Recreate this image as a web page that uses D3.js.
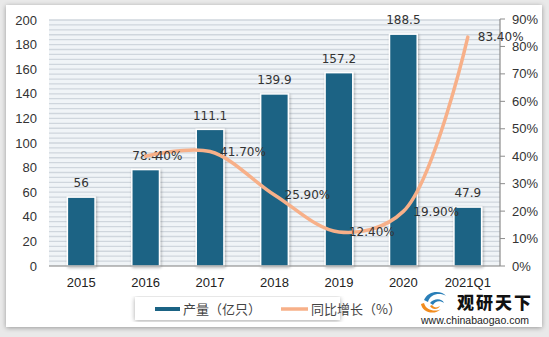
<!DOCTYPE html>
<html><head><meta charset="utf-8">
<script src="https://cdn.jsdelivr.net/npm/d3@7"></script>
<style>
html,body{margin:0;padding:0;background:#e9e9e9;}
svg{display:block;}
</style></head>
<body>
<svg id="c" width="549" height="337"></svg>
<script>
const categories = ["2015","2016","2017","2018","2019","2020","2021Q1"];
const output = [56, 78.4, 111.1, 139.9, 157.2, 188.5, 47.9];
const growth = [null, 40, 41.7, 25.9, 12.4, 19.9, 83.4];
const growthLabels = [null, "40%", "41.70%", "25.90%", "12.40%", "19.90%", "83.40%"];
const leftTicks = [0,20,40,60,80,100,120,140,160,180,200];
const rightTicks = [0,10,20,30,40,50,60,70,80,90];
const legendNames = ["产量（亿只）", "同比增长（%）"];

(function(){
const svg = d3.select("#c");
const defs = svg.append("defs");
const f = defs.append("filter").attr("id","frameShadow").attr("x","-5%").attr("y","-5%").attr("width","110%").attr("height","110%");
f.append("feGaussianBlur").attr("in","SourceAlpha").attr("stdDeviation",2.5);
f.append("feOffset").attr("dx",0).attr("dy",1);
f.append("feComponentTransfer").append("feFuncA").attr("type","linear").attr("slope",0.35);
const fm = f.append("feMerge"); fm.append("feMergeNode"); fm.append("feMergeNode").attr("in","SourceGraphic");
const bs = defs.append("filter").attr("id","barShadow").attr("x","-30%").attr("y","-10%").attr("width","160%").attr("height","120%");
bs.append("feGaussianBlur").attr("in","SourceAlpha").attr("stdDeviation",1.5);
bs.append("feOffset").attr("dx",1).attr("dy",1);
bs.append("feComponentTransfer").append("feFuncA").attr("type","linear").attr("slope",0.3);
const bm = bs.append("feMerge"); bm.append("feMergeNode"); bm.append("feMergeNode").attr("in","SourceGraphic");

svg.append("rect").attr("x",6).attr("y",5).attr("width",536).attr("height",322).attr("fill","#fff").attr("filter","url(#frameShadow)");

const pL = 49, pR = 500, pT = 20, pB = 266;
const x = d3.scaleBand().domain(categories).range([pL,pR]).paddingInner(0.57).paddingOuter(0.285);
const y = d3.scaleLinear().domain([0,200]).range([pB,pT]);
const y2 = d3.scaleLinear().domain([0,90]).range([pB,19]);

svg.append("rect").attr("x",pL).attr("y",pT).attr("width",pR-pL).attr("height",pB-pT).attr("fill","#f0f4f7");
svg.append("g").selectAll("line").data(d3.range(4,201,4)).join("line")
  .attr("x1",pL).attr("x2",pR).attr("y1",d=>y(d)).attr("y2",d=>y(d))
  .attr("stroke","#cfd6dd").attr("stroke-width",1.3);

const fontNum = "'Liberation Sans', Arial, sans-serif";
svg.append("g").selectAll("text").data(leftTicks).join("text")
  .attr("x",37).attr("y",d=>y(d)).attr("dy","0.35em").attr("text-anchor","end")
  .attr("font-family",fontNum).attr("font-size",13).attr("fill","#333").text(d=>d);

svg.append("g").selectAll("rect").data(output).join("rect")
  .attr("x",(d,i)=>x(categories[i])).attr("width",x.bandwidth())
  .attr("y",d=>y(d)).attr("height",d=>pB-y(d))
  .attr("fill","#1b6384").attr("stroke","#ffffff").attr("stroke-width",1.5)
  .attr("filter","url(#barShadow)");

svg.append("line").attr("x1",pL).attr("x2",pR).attr("y1",pB).attr("y2",pB).attr("stroke","#7f7f7f").attr("stroke-width",1.2);
svg.append("line").attr("x1",pR).attr("x2",pR).attr("y1",19).attr("y2",pB).attr("stroke","#8c8c8c").attr("stroke-width",1.2);
const rg = svg.append("g");
rg.selectAll("line").data(rightTicks).join("line")
  .attr("x1",pR).attr("x2",pR+5).attr("y1",d=>y2(d)).attr("y2",d=>y2(d)).attr("stroke","#8c8c8c");
rg.selectAll("text").data(rightTicks).join("text")
  .attr("x",512).attr("y",d=>y2(d)).attr("dy","0.35em")
  .attr("font-family",fontNum).attr("font-size",13).attr("fill","#333").text(d=>d+"%");

svg.append("g").selectAll("text").data(categories).join("text")
  .attr("x",d=>x(d)+x.bandwidth()/2).attr("y",287).attr("text-anchor","middle")
  .attr("font-family",fontNum).attr("font-size",13).attr("fill","#222").text(d=>d);

svg.append("g").selectAll("text").data(output).join("text")
  .attr("x",(d,i)=>x(categories[i])+x.bandwidth()/2).attr("y",d=>y(d)-14).attr("dy","0.35em")
  .attr("text-anchor","middle").attr("font-family","'DejaVu Sans', sans-serif").attr("font-size",12).attr("fill","#333")
  .text(d=>d);

const pts = growth.map((g,i)=>({g,c:categories[i],l:growthLabels[i]})).filter(d=>d.g!==null);
const cx = d=>x(d.c)+x.bandwidth()/2;
const line = d3.line().x(cx).y(d=>y2(d.g)).curve(d3.curveCatmullRom.alpha(0.5));
svg.append("path").datum(pts).attr("d",line).attr("fill","none")
  .attr("stroke","#f7b089").attr("stroke-width",3.5).attr("stroke-linecap","round");

svg.append("g").selectAll("text").data(pts).join("text")
  .attr("x",d=>cx(d)+10).attr("y",d=>y2(d.g)).attr("dy","0.35em")
  .attr("font-family","'DejaVu Sans', sans-serif").attr("font-size",12).attr("fill","#333")
  .text(d=>d.l);

const lg = svg.append("g");
lg.append("rect").attr("x",135).attr("y",297).attr("width",205).attr("height",23).attr("fill","#fff").attr("filter","url(#frameShadow)");
lg.append("rect").attr("x",155).attr("y",307).attr("width",25).attr("height",4).attr("fill","#1b6384");
lg.append("text").attr("x",183).attr("y",309).attr("dy","0.35em").attr("font-family","'Noto Sans CJK SC', sans-serif").attr("font-size",13).attr("fill","#444").text(legendNames[0]);
lg.append("line").attr("x1",281).attr("x2",308).attr("y1",309).attr("y2",309).attr("stroke","#f7b089").attr("stroke-width",3.5);
lg.append("text").attr("x",311).attr("y",309).attr("dy","0.35em").attr("font-family","'Noto Sans CJK SC', sans-serif").attr("font-size",13).attr("fill","#444").text(legendNames[1]);

const logo = svg.append("g");
logo.append("path").attr("d","M424,300 C428,290 442,290 446,296 C440,292 430,294 428,302 Z").attr("fill","#2a7fb8");
logo.append("path").attr("d","M430,303 C434,298 442,298 444,303 C440,300 435,301 433,305 Z").attr("fill","#2a7fb8");
logo.append("path").attr("d","M421,304 C422,312 434,316 441,309 C436,312 426,311 424,303 Z").attr("fill","#f28c1e");
logo.append("path").attr("d","M430,306 C432,310 438,310 440,306 C437,308 434,308 432,305 Z").attr("fill","#f28c1e");
logo.append("text").attr("x",457).attr("y",309).attr("font-family","'Noto Sans CJK SC', sans-serif").attr("font-weight",900).attr("font-size",17).attr("fill","#111").attr("letter-spacing",2).text("观研天下");
logo.append("text").attr("x",421).attr("y",324).attr("font-family",fontNum).attr("font-size",10.5).attr("fill","#222").text("www.chinabaogao.com");
})();
</script>
</body></html>
